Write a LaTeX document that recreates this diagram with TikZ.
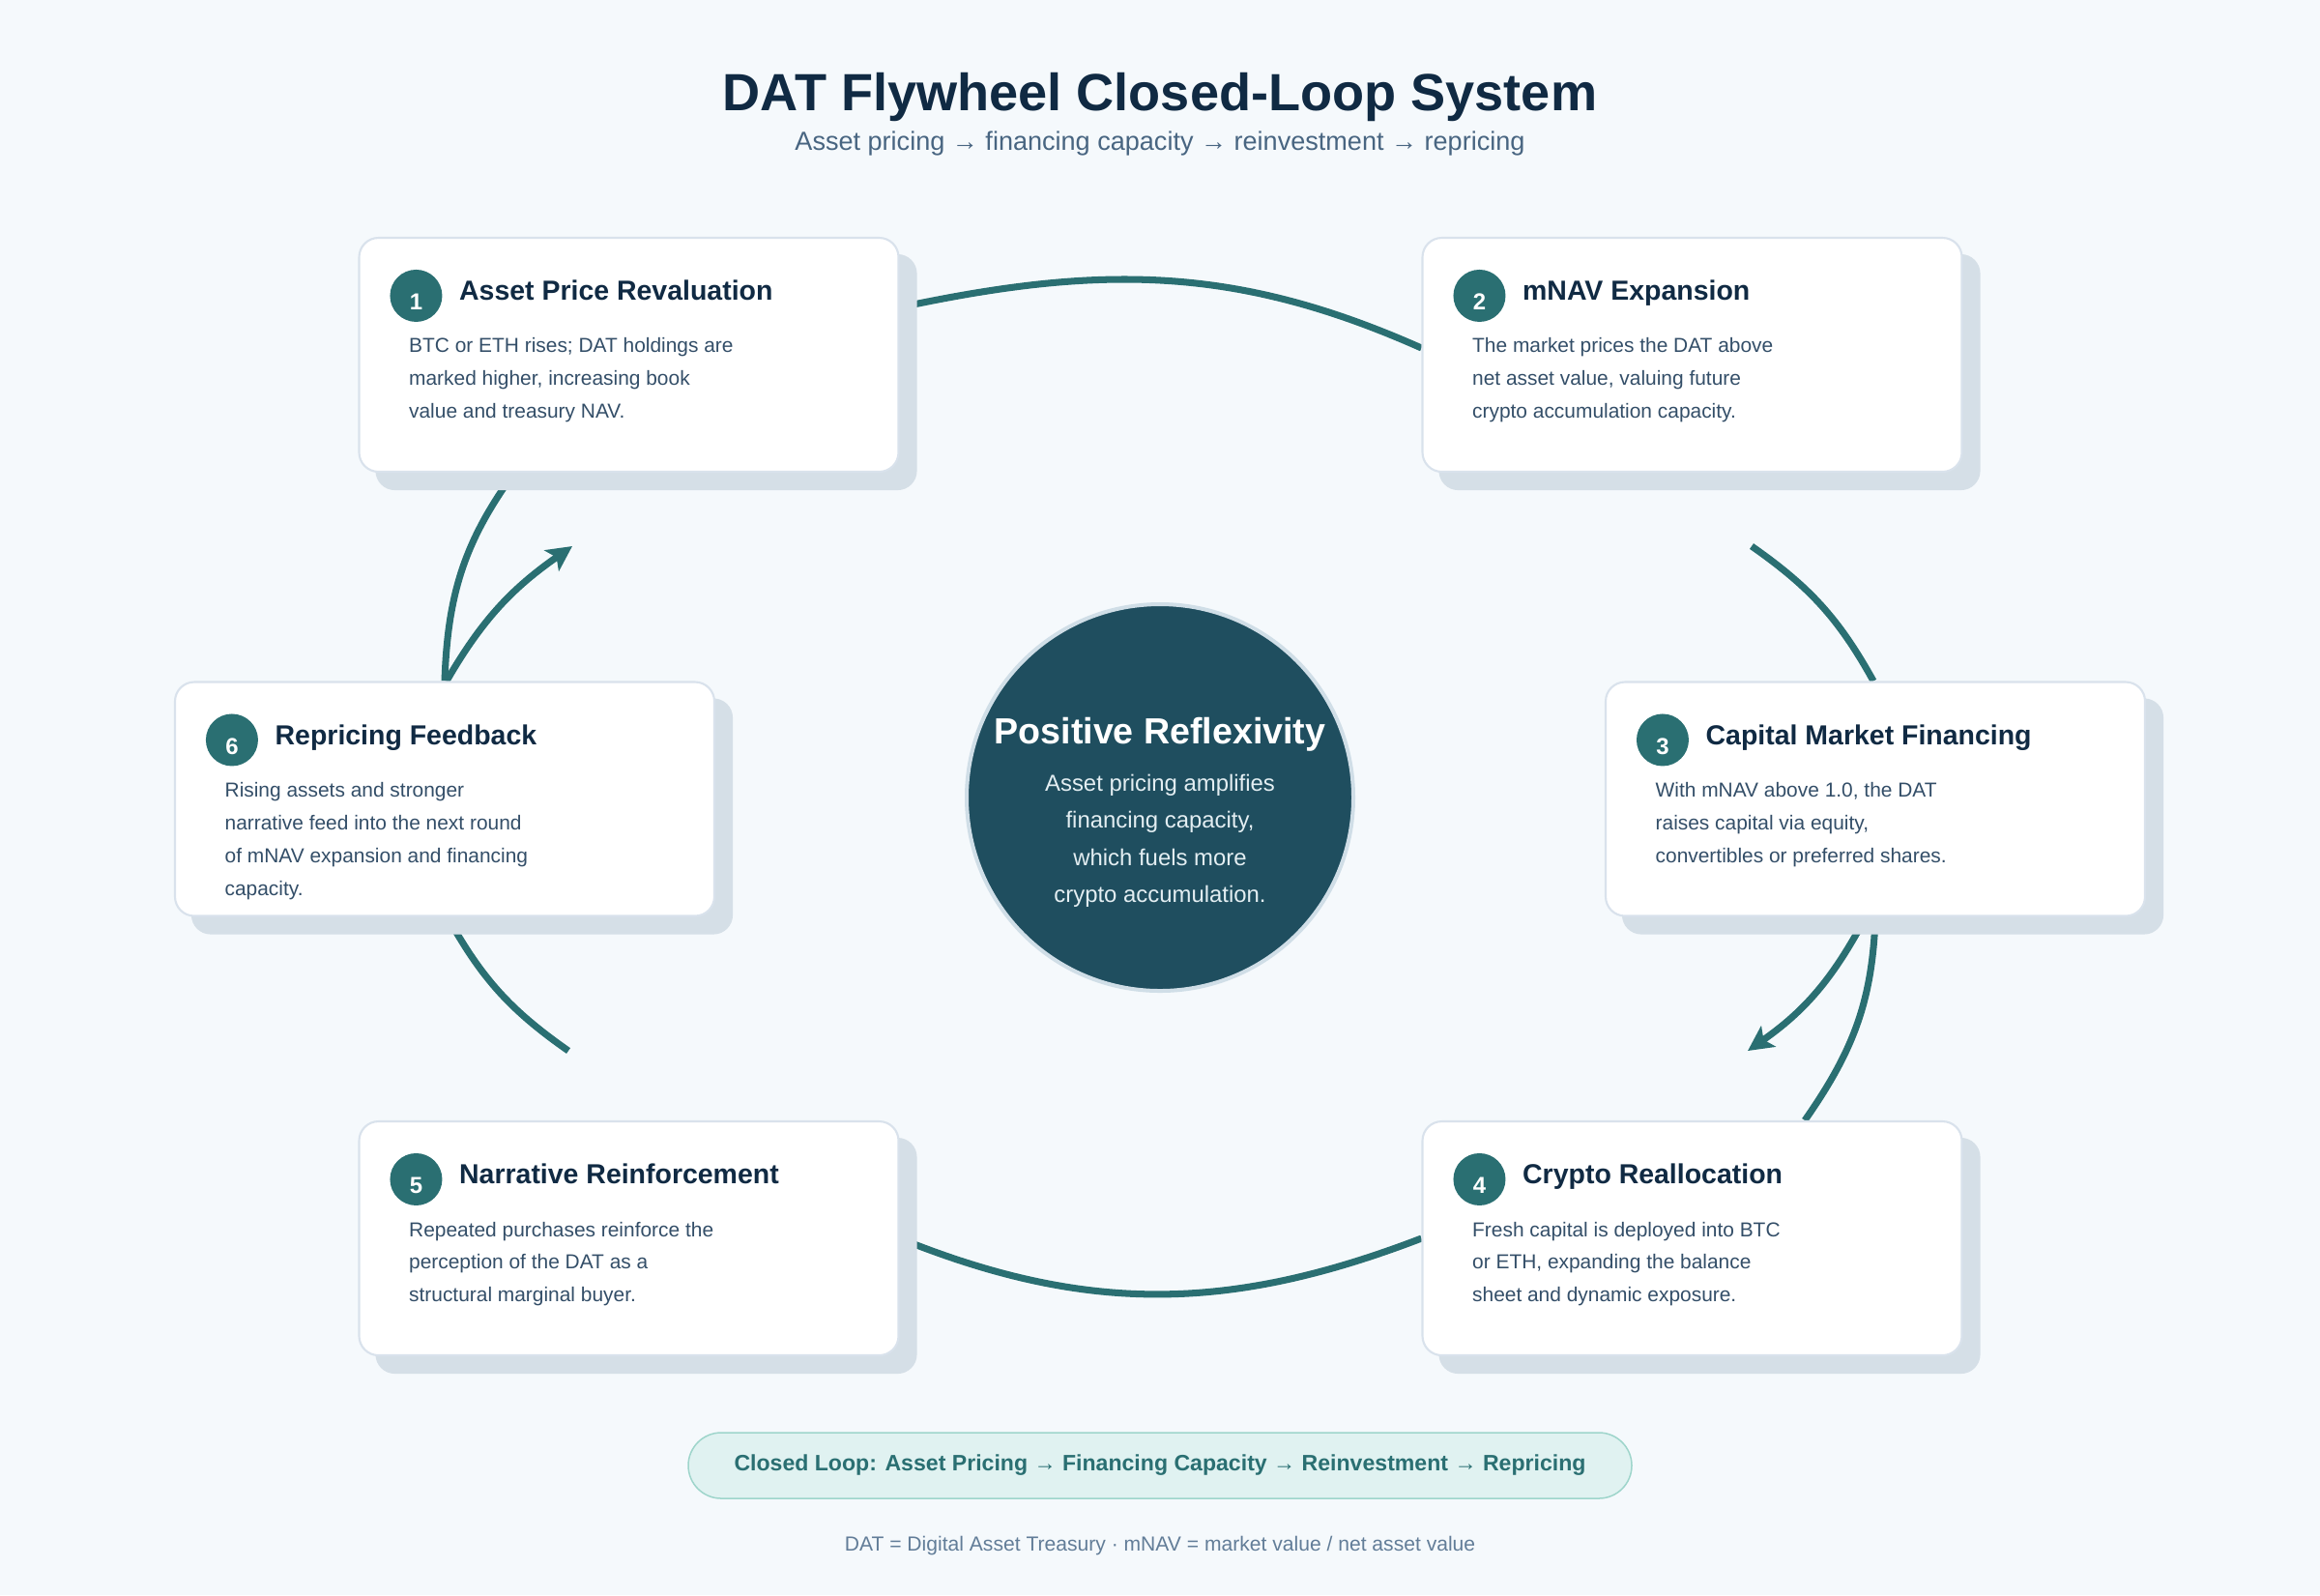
\documentclass[tikz,border=0pt]{standalone}
\usepackage{fontspec}
\setmainfont{Liberation Sans}
\usetikzlibrary{arrows.meta,calc}

\pgfdeclarelayer{back}
\pgfdeclarelayer{links}
\pgfdeclarelayer{shade}
\pgfsetlayers{back,links,shade,main}

\definecolor{pagebg}{HTML}{F5F9FC}
\definecolor{ink}{HTML}{102A43}
\definecolor{subink}{HTML}{486581}
\definecolor{bodyink}{HTML}{334E68}
\definecolor{loopteal}{HTML}{2A6F72}
\definecolor{edge}{HTML}{D9E2EC}
\definecolor{shadowc}{HTML}{D5DFE7}
\definecolor{hubfill}{HTML}{1F4E5F}
\definecolor{hubedge}{HTML}{D0DEE7}
\definecolor{hubink}{HTML}{E3EEF2}
\definecolor{pillfill}{HTML}{E0F2F1}
\definecolor{pilledge}{HTML}{9ED5CB}
\definecolor{noteink}{HTML}{627D98}

\def\bw{5.58cm}
\def\bh{2.42cm}
\def\sh{0.18}

\begin{document}
\begin{tikzpicture}[
    card/.style={draw=edge,line width=0.6pt,fill=white,rounded corners=0.2cm,minimum width=\bw,minimum height=\bh,inner sep=0pt},
    cardshade/.style={fill=shadowc,rounded corners=0.2cm},
    num/.style={circle,fill=loopteal,text=white,font=\bfseries\fontsize{6.8}{8}\selectfont,minimum size=0.54cm,inner sep=0pt,text height=0.3cm},
    head/.style={anchor=base west,inner sep=0pt,text=ink,font=\bfseries\fontsize{8.1}{10}\selectfont},
    body/.style={anchor=base west,inner sep=0pt,align=left,text=bodyink,font=\fontsize{5.95}{9.67}\selectfont},
    flow/.style={draw=loopteal,line width=2pt},
    flowtip/.style={-{Stealth[length=2.6mm,width=2.6mm,inset=0.6mm]}}]

    \begin{pgfonlayer}{back}
      \fill[pagebg] (0,0) rectangle (24,-16.5);
    \end{pgfonlayer}
    \useasboundingbox (0,0) rectangle (24,-16.5);

    \node[anchor=base,text=ink,font=\bfseries\fontsize{15.4}{18}\selectfont] (title) at (12,-1.14) {DAT Flywheel Closed-Loop System};
    \node[anchor=base,text=subink,font=\fontsize{7.7}{9}\selectfont] (subtitle) at (12,-1.55) {Asset pricing → financing capacity → reinvestment → repricing};

    \node[card] (b1) at (6.505,-3.67) {};
    \node[card] (b2) at (17.505,-3.67) {};
    \node[card] (b3) at (19.40,-8.265) {};
    \node[card] (b4) at (17.505,-12.81) {};
    \node[card] (b5) at (6.505,-12.81) {};
    \node[card] (b6) at (4.60,-8.265) {};

    \node[num] (n1) at ([shift={(0.60,-0.61)}]b1.north west) {1};
    \node[head] (h1) at ([shift={(1.04,-0.66)}]b1.north west) {Asset Price Revaluation};
    \node[body] (t1) at ([shift={(0.52,-1.88)}]b1.north west) {BTC or ETH rises; DAT holdings are\\marked higher, increasing book\\value and treasury NAV.};

    \node[num] (n2) at ([shift={(0.60,-0.61)}]b2.north west) {2};
    \node[head] (h2) at ([shift={(1.04,-0.66)}]b2.north west) {mNAV Expansion};
    \node[body] (t2) at ([shift={(0.52,-1.88)}]b2.north west) {The market prices the DAT above\\net asset value, valuing future\\crypto accumulation capacity.};

    \node[num] (n3) at ([shift={(0.60,-0.61)}]b3.north west) {3};
    \node[head] (h3) at ([shift={(1.04,-0.66)}]b3.north west) {Capital Market Financing};
    \node[body] (t3) at ([shift={(0.52,-1.88)}]b3.north west) {With mNAV above 1.0, the DAT\\raises capital via equity,\\convertibles or preferred shares.};

    \node[num] (n4) at ([shift={(0.60,-0.61)}]b4.north west) {4};
    \node[head] (h4) at ([shift={(1.04,-0.66)}]b4.north west) {Crypto Reallocation};
    \node[body] (t4) at ([shift={(0.52,-1.88)}]b4.north west) {Fresh capital is deployed into BTC\\or ETH, expanding the balance\\sheet and dynamic exposure.};

    \node[num] (n5) at ([shift={(0.60,-0.61)}]b5.north west) {5};
    \node[head] (h5) at ([shift={(1.04,-0.66)}]b5.north west) {Narrative Reinforcement};
    \node[body] (t5) at ([shift={(0.52,-1.88)}]b5.north west) {Repeated purchases reinforce the\\perception of the DAT as a\\structural marginal buyer.};

    \node[num] (n6) at ([shift={(0.60,-0.61)}]b6.north west) {6};
    \node[head] (h6) at ([shift={(1.04,-0.66)}]b6.north west) {Repricing Feedback};
    \node[body] (t6) at ([shift={(0.52,-2.22)}]b6.north west) {Rising assets and stronger\\narrative feed into the next round\\of mNAV expansion and financing\\capacity.};

    \begin{pgfonlayer}{shade}
      \fill[cardshade] ([shift={(\sh,-\sh)}]b1.south west) rectangle ([shift={(\sh,-\sh)}]b1.north east);
      \fill[cardshade] ([shift={(\sh,-\sh)}]b2.south west) rectangle ([shift={(\sh,-\sh)}]b2.north east);
      \fill[cardshade] ([shift={(\sh,-\sh)}]b3.south west) rectangle ([shift={(\sh,-\sh)}]b3.north east);
      \fill[cardshade] ([shift={(\sh,-\sh)}]b4.south west) rectangle ([shift={(\sh,-\sh)}]b4.north east);
      \fill[cardshade] ([shift={(\sh,-\sh)}]b5.south west) rectangle ([shift={(\sh,-\sh)}]b5.north east);
      \fill[cardshade] ([shift={(\sh,-\sh)}]b6.south west) rectangle ([shift={(\sh,-\sh)}]b6.north east);
    \end{pgfonlayer}

    \node[circle,fill=hubfill,draw=hubedge,line width=0.04cm,minimum size=4.0cm,inner sep=0pt] (hub) at (12,-8.25) {};
    \node[anchor=base,text=white,font=\bfseries\fontsize{10.7}{13}\selectfont] (hubtitle) at ([yshift=0.56cm]hub.center) {Positive Reflexivity};
    \node[anchor=base,align=center,text=hubink,font=\fontsize{6.8}{10.95}\selectfont] (hubtext) at ([yshift=-1.085cm]hub.center) {Asset pricing amplifies\\financing capacity,\\which fuels more\\crypto accumulation.};

    \begin{pgfonlayer}{links}
      \coordinate (k1) at (5.92,-5.65);
      \coordinate (k2) at (18.12,-5.65);
      \coordinate (k3) at (18.08,-10.87);
      \coordinate (k5) at (5.88,-10.87);
      \path[flow] ([yshift=0.49cm]b1.east) to[out=12,in=156] ([yshift=0.07cm]b2.west);
      \path[flow] (k2) to[out=-35,in=119] ([xshift=-0.02cm]b3.north);
      \path[flow] (b3.south) to[out=-92,in=55] ([xshift=1.165cm]b4.north);
      \path[flow,flowtip] ([xshift=-0.10cm]b3.south) to[out=-118,in=35] (k3);
      \path[flow] (b4.west) to[out=201,in=-22] (b5.east);
      \path[flow] (k5) to[out=145,in=-61] ([xshift=0.03cm]b6.south);
      \path[flow] (b6.north) to[out=88,in=-126] ([xshift=-1.185cm]b1.south);
      \path[flow,flowtip] ([xshift=0.02cm]b6.north) to[out=60,in=-145] (k1);
    \end{pgfonlayer}

    \node[draw=pilledge,fill=pillfill,line width=0.015cm,rounded corners=0.34cm,minimum width=9.76cm,minimum height=0.68cm,text=loopteal,font=\bfseries\fontsize{6.57}{8}\selectfont] (pill) at (12,-15.16) {Closed Loop: Asset Pricing → Financing Capacity → Reinvestment → Repricing};
    \node[anchor=base,text=noteink,font=\fontsize{6}{7}\selectfont] (note) at (12,-16.04) {DAT = Digital Asset Treasury · mNAV = market value / net asset value};

  \end{tikzpicture}
\end{document}
